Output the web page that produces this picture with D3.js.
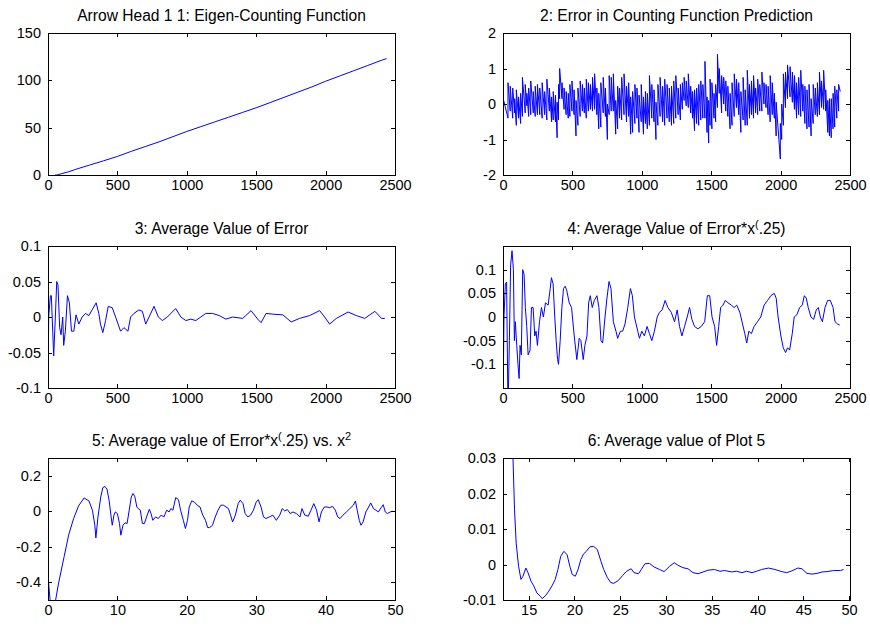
<!DOCTYPE html>
<html>
<head>
<meta charset="utf-8">
<script src="https://cdn.jsdelivr.net/npm/d3@7/dist/d3.min.js"></script>
<style>
  body { margin: 0; background: #ffffff; }
  svg text { font-family: "Liberation Sans", Arial, Helvetica, sans-serif; fill: #000; }
</style>
</head>
<body>
<svg id="fig" width="870" height="626"></svg>
<script>
// ---------- Panel 1: eigen-counting function N(x) ----------
const countX = [50, 65, 100, 150, 200, 300, 400, 500, 600, 700, 800, 900, 1000, 1100, 1200,
  1300, 1400, 1500, 1600, 1700, 1800, 1900, 2000, 2100, 2200, 2300, 2400, 2440];
const countY = [0, 0, 1.5, 3.5, 6, 10.5, 15, 19.6, 25, 30, 35, 40.5, 46, 51, 56,
  61, 66, 71, 76.5, 82, 87.5, 93, 99, 104.5, 110, 115.5, 121, 123];

// ---------- Panel 2: error in counting function (sawtooth) ----------
// each entry: position of a jump, value just before it, value just after it
const errX = [5, 36, 52, 70, 84, 96, 112, 127, 140, 160, 172, 185, 200, 218, 232, 248, 265, 282, 300,
  316, 334, 350, 362, 378, 390, 400, 408, 425, 440, 455, 470, 482, 497, 512, 526, 540, 556, 572,
  586, 600, 615, 630, 645, 660, 676, 690, 705, 722, 738, 752, 765, 780, 795, 812, 826, 840, 855,
  872, 890, 905, 920, 934, 950, 965, 980, 996, 1012, 1026, 1040, 1055, 1072, 1088, 1102, 1116,
  1132, 1150, 1165, 1182, 1198, 1214, 1230, 1245, 1262, 1278, 1292, 1305, 1320, 1335, 1352, 1366,
  1380, 1395, 1410, 1425, 1440, 1455, 1470, 1482, 1492, 1505, 1520, 1532, 1545, 1558, 1575, 1590,
  1605, 1620, 1636, 1650, 1666, 1682, 1698, 1714, 1730, 1745, 1760, 1776, 1790, 1805, 1820, 1835,
  1850, 1865, 1880, 1895, 1910, 1925, 1940, 1955, 1968, 1998, 2008, 2020, 2035, 2050, 2068, 2085,
  2100, 2115, 2130, 2145, 2160, 2175, 2190, 2205, 2220, 2235, 2250, 2265, 2280, 2295, 2310, 2325,
  2340, 2352, 2365, 2378, 2390, 2405, 2418, 2430];
const errFrom = [0.10, -0.40, -0.20, -0.40, -0.25, -0.60, -0.40, -0.55, -0.35, -0.25, -0.05, -0.35, -0.30, -0.25, -0.35, -0.30, -0.30, -0.40, -0.30,
  -0.45, -0.20, -0.50, -0.45, -0.50, -0.95, -0.45, 0.15, 0.15, -0.15, -0.30, -0.40, -0.35, -0.20, -0.30, -0.90, -0.60, -0.35, -0.20,
  -0.25, -0.40, -0.20, -0.15, -0.20, -0.15, -0.30, -0.70, -0.65, -0.25, -0.35, -1.00, -0.30, -0.20, -0.20, -0.85, -0.70, -0.40, -0.45,
  -0.30, -0.50, -0.35, -0.85, -0.80, -0.55, -0.40, -0.80, -0.50, -0.85, -0.55, -0.70, -0.60, -0.40, -0.50, -1.00, -0.60,
  -0.35, -0.50, -0.60, -0.40, -0.50, -0.60, -0.55, -0.40, -0.30, -0.45, -0.15, 0.10, -0.05, -0.10, -0.25, -0.40,
  -0.75, -0.55, -0.60, -0.45, -0.40, -0.40, -0.80, -1.10, -0.60, -0.70, -0.40, -0.50, -0.10, 0.30, -0.25, 0.00,
  -0.20, -0.35, -0.70, -0.60, -0.35, -0.10, -0.30, -0.80, -0.45, -0.60, -0.60, -0.40, -0.30, -0.40, -0.25, -0.30,
  -0.20, -0.20, 0.00, -0.10, -0.30, -0.50, -0.30, -0.40, -0.90, -1.55, -1.00, -0.60, -0.10, 0.15, 0.20, 0.05,
  -0.15, -0.40, -0.30, -0.35, -0.20, -0.55, -0.70, -0.65, -0.90, -0.55, -0.30, -0.35, -0.30, -0.10, -0.15, -0.20,
  -0.80, -0.90, -0.95, -0.70, -0.65, -0.40, -0.20, 0.35];
const errTo = [0.10, 0.60, 0.50, 0.45, 0.15, 0.40, 0.20, 0.30, 0.75, 0.55, 0.30, 0.45, 0.65, 0.35, 0.50, 0.55, 0.45, 0.60, 0.35,
  0.70, 0.45, 0.20, 0.35, 0.25, 0.05, 0.55, 1.00, 0.60, 0.45, 0.35, 0.30, 0.55, 0.65, 0.40, 0.10, 0.45, 0.65, 0.55,
  0.45, 0.70, 0.60, 0.55, 0.75, 0.85, 0.45, 0.30, 0.60, 0.75, 0.45, 0.00, 0.80, 0.75, 0.85, 0.10, 0.50, 0.45, 0.75,
  0.85, 0.50, 0.60, 0.20, 0.35, 0.55, 0.45, 0.25, 0.55, 0.20, 0.35, 0.30, 0.80, 0.55, 0.40, 0.05, 0.55,
  0.75, 0.50, 0.70, 0.55, 0.45, 0.50, 0.65, 0.80, 0.45, 0.55, 0.60, 0.75, 0.65, 0.85, 0.50, 0.35,
  0.40, 0.45, 0.55, 0.65, 0.55, 1.20, 0.20, 0.10, 0.70, 0.60, 0.30, 0.55, 1.40, 1.00, 0.80, 0.75,
  0.65, 0.50, 0.30, 0.60, 0.85, 0.70, 0.60, 0.35, 0.75, 0.40, 0.95, 0.55, 0.65, 0.80, 0.45, 0.70,
  0.55, 0.90, 0.60, 0.55, 0.50, 0.80, 0.60, 0.30, 0.05, -0.55, 0.00, 0.85, 0.90, 1.10, 1.05, 0.90,
  0.80, 0.60, 0.75, 0.95, 0.55, 0.50, 0.40, 0.55, 0.15, 0.55, 0.45, 0.60, 0.90, 0.65, 0.95, 0.40,
  0.10, 0.15, 0.15, 0.30, 0.50, 0.40, 0.55, 0.35];

// ---------- Panel 3: running average of the error ----------
const avgX = [0, 5, 17, 24, 34, 41, 53, 63, 72, 84, 94, 106, 113, 125, 140, 154, 169, 186, 202, 222,
  246, 270, 294, 318, 347, 366, 378, 395, 415, 434, 463, 487, 523, 547, 576, 595, 619, 655, 680, 704,
  728, 764, 795, 824, 860, 920, 957, 993, 1029, 1065, 1101, 1137, 1186, 1234, 1282, 1330, 1403, 1463,
  1511, 1535, 1571, 1620, 1692, 1752, 1812, 1885, 1957, 1993, 2029, 2077, 2162, 2222, 2282, 2355, 2403, 2427];
const avgY = [-0.1, 0.0, 0.03, 0.03, -0.02, -0.055, 0.0, 0.05, 0.045, -0.015, -0.025, 0.0, -0.04, -0.02, 0.03, 0.02, -0.02, -0.02, 0.003, -0.01,
  0.0, 0.005, 0.002, 0.01, 0.02, 0.005, -0.01, -0.022, -0.005, 0.015, 0.013, 0.0, -0.02, -0.015, -0.02, 0.0, 0.005, 0.01, 0.008, -0.01,
  0.0, 0.015, 0.0, -0.005, 0.0, 0.012, 0.0, -0.005, -0.003, -0.005, 0.0, 0.005, 0.005, 0.002, -0.003, 0.0, -0.002, 0.009,
  -0.003, -0.008, 0.005, 0.004, 0.003, -0.007, -0.002, 0.002, 0.009, 0.0, -0.01, -0.002, 0.007, 0.002, -0.002, 0.008, -0.002, -0.002];

// ---------- Panel 4: running average of error * x^(1/4) ----------
const wavgX = [0, 7, 17, 26, 36, 46, 55, 65, 75, 82, 89, 99, 108, 116, 123, 132, 142, 152, 161, 171, 181, 195,
  205, 217, 229, 238, 248, 263, 277, 291, 306, 325, 340, 349, 361, 373, 383, 393, 400, 412, 424, 436, 448,
  460, 477, 494, 513, 532, 549, 561, 578, 590, 605, 617, 629, 643, 658, 677, 691, 706, 718, 735, 749, 764,
  778, 795, 814, 826, 846, 862, 879, 899, 918, 932, 947, 971, 983, 1000, 1019, 1038, 1055, 1072, 1091,
  1111, 1127, 1147, 1168, 1188, 1212, 1236, 1255, 1272, 1289, 1308, 1327, 1344, 1361, 1380, 1404, 1428,
  1453, 1472, 1489, 1506, 1525, 1539, 1554, 1568, 1585, 1602, 1621, 1645, 1665, 1684, 1706, 1722, 1742,
  1756, 1771, 1790, 1809, 1833, 1857, 1881, 1906, 1930, 1954, 1968, 1982, 2002, 2019, 2036, 2050, 2065,
  2084, 2098, 2118, 2137, 2156, 2171, 2185, 2199, 2219, 2238, 2257, 2272, 2286, 2301, 2320, 2339, 2358,
  2378, 2392, 2411, 2426];
const wavgY = [-0.2, 0.0, 0.07, 0.074, -0.2, -0.05, 0.11, 0.14, 0.1, -0.05, -0.01, -0.06, -0.1, -0.13, -0.06, -0.08, 0.1, 0.09, 0.02, -0.02, -0.08, -0.07,
  0.02, 0.02, -0.04, -0.03, -0.06, -0.01, 0.02, 0.0, 0.03, 0.025, 0.06, 0.083, 0.07, 0.0, -0.05, -0.09, -0.1, -0.05, 0.02, 0.06, 0.065,
  0.055, 0.03, 0.02, -0.04, -0.09, -0.045, -0.05, -0.09, -0.06, -0.04, 0.03, 0.045, 0.02, 0.035, 0.045, 0.02, -0.05, -0.055, 0.0, 0.04, 0.075,
  0.06, -0.01, -0.03, -0.045, -0.03, -0.03, -0.015, 0.02, 0.06, 0.045, 0.0, -0.03, -0.045, -0.03, -0.04, -0.02, -0.035, -0.05, -0.03,
  0.0, 0.01, 0.015, 0.035, 0.02, 0.01, -0.01, 0.015, -0.02, -0.04, -0.02, 0.0, 0.02, -0.005, -0.02, -0.025, -0.02,
  -0.01, 0.045, 0.045, 0.0, -0.02, -0.06, -0.02, 0.02, 0.025, 0.035, 0.03, 0.025, 0.02, 0.025, 0.01, -0.01, -0.035,
  -0.055, -0.03, -0.035, -0.02, -0.01, 0.0, 0.025, 0.035, 0.045, 0.05, 0.04, 0.0, -0.04, -0.065, -0.075, -0.065, -0.07,
  -0.035, 0.0, 0.005, 0.02, 0.025, 0.045, 0.04, 0.02, 0.0, -0.005, 0.015, 0.02, 0.0, -0.01, 0.02, 0.035, 0.035,
  0.02, -0.01, -0.015, -0.017];

// ---------- Panel 5: the same average against sqrt(x) ----------
const rootX = [0, 0.1, 0.35, 0.6, 0.9, 1.1, 1.5, 2.3, 3.0, 3.7, 4.4, 5.2, 5.9, 6.4, 6.75, 6.9, 7.2, 7.6, 7.9, 8.2, 8.5, 8.8, 9.1,
  9.26, 9.5, 9.7, 10.0, 10.3, 10.5, 10.8, 11.1, 11.4, 11.7, 12.0, 12.25, 12.5, 12.8, 13.0, 13.3, 13.6, 13.9, 14.2,
  14.6, 14.85, 15.1, 15.5, 15.9, 16.3, 16.7, 17.1, 17.45, 17.7, 18.0, 18.4, 18.8, 19.1, 19.5, 19.8, 20.1, 20.35,
  20.7, 21.1, 21.5, 21.9, 22.3, 22.7, 23.0, 23.3, 23.7, 24.1, 24.5, 24.9, 25.3, 25.65, 26.0, 26.3, 26.6, 27.0,
  27.4, 27.7, 28.1, 28.4, 28.8, 29.2, 29.6, 30.0, 30.3, 30.7, 31.05, 31.4, 31.9, 32.4, 32.9, 33.4, 33.75, 34.1,
  34.5, 34.9, 35.3, 35.8, 36.3, 36.6, 37.0, 37.5, 37.9, 38.3, 38.7, 39.05, 39.4, 39.8, 40.2, 40.6, 41.0, 41.4,
  41.75, 42.1, 42.5, 43.0, 43.5, 44.0, 44.3, 44.55, 44.85, 45.1, 45.4, 45.8, 46.2, 46.5, 46.9, 47.25, 47.6, 48.0,
  48.3, 48.6, 48.9, 49.3, 49.7];
const rootY = [-0.31, -0.41, -0.52, -0.56, -0.54, -0.5, -0.41, -0.26, -0.13, -0.04, 0.03, 0.075, 0.058, 0.006, -0.08, -0.15, -0.032, 0.08, 0.133, 0.14, 0.125, 0.062, -0.032,
  -0.079, -0.022, -0.004, -0.013, -0.069, -0.135, -0.079, -0.065, -0.069, 0.006, 0.08, 0.1, 0.084, 0.024, 0.015, 0.006, -0.069, -0.069, -0.032,
  0.011, -0.013, -0.051, -0.032, -0.041, -0.022, -0.032, 0.006, -0.004, 0.015, 0.006, 0.077, 0.065, 0.006, -0.051, -0.097, -0.051, 0.024,
  0.058, 0.052, 0.034, 0.024, -0.022, -0.051, -0.092, -0.092, -0.079, -0.032, 0.006, 0.034, 0.034, 0.024, 0.015, -0.022, -0.06, -0.022,
  0.043, 0.062, 0.043, -0.013, -0.032, -0.022, 0.006, 0.052, 0.065, 0.024, -0.032, -0.041, -0.032, -0.022, -0.051, -0.022, 0.015, 0.002,
  0.009, -0.013, -0.004, -0.013, -0.032, 0.015, -0.022, -0.028, 0.006, 0.043, 0.006, -0.06, -0.004, 0.024, 0.024, 0.02, 0.028, 0.006,
  -0.032, -0.041, -0.022, -0.004, 0.015, 0.034, 0.058, 0.006, -0.051, -0.079, -0.06, -0.004, 0.024, 0.047, 0.015, 0.006, -0.004, 0.02,
  0.037, -0.004, -0.013, -0.004, 0.0];

// ---------- Panel 6: running average of panel 5 ----------
const meanX = [13.28, 13.46, 13.64, 13.9, 14.16, 14.38, 14.7, 14.93, 15.26, 15.55, 15.9, 16.3, 16.47, 16.8, 17.2, 17.56,
  17.9, 18.2, 18.5, 18.85, 19.2, 19.5, 19.76, 20.1, 20.4, 20.7, 21.0, 21.3, 21.7, 22.1, 22.5, 22.9, 23.2, 23.6,
  23.97, 24.3, 24.8, 25.26, 25.7, 26.2, 26.5, 27.0, 27.3, 27.7, 28.2, 28.7, 29.3, 29.8, 30.4, 30.9, 31.3, 31.85,
  32.4, 32.95, 33.5, 34.05, 34.6, 35.3, 35.9, 36.4, 37.2, 37.7, 38.3, 38.8, 39.4, 39.9, 40.45, 41.2, 41.9, 42.65,
  43.2, 43.75, 44.4, 44.85, 45.4, 45.95, 46.5, 47.05, 47.6, 48.3, 49.05, 49.4];
const meanY = [0.031, 0.0154, 0.006, -0.0005, -0.0042, -0.0033, -0.001, -0.0023, -0.0047, -0.006, -0.008, -0.009, -0.0096, -0.0089, -0.0075, -0.006,
  -0.0042, -0.0014, 0.0023, 0.0037, 0.0028, -0.0005, -0.0028, -0.0033, -0.0014, 0.0014, 0.003, 0.0037, 0.005, 0.0051, 0.0042, 0.0009, -0.0014, -0.0037,
  -0.0051, -0.0053, -0.0045, -0.0031, -0.0019, -0.0012, -0.0023, -0.0026, -0.0014, 0.0002, 0.0003, -0.0007, -0.0014, -0.002, -0.0005, 0.0005, -0.0002, -0.0009,
  -0.0012, -0.0023, -0.0026, -0.0021, -0.0016, -0.0014, -0.0019, -0.0017, -0.0021, -0.0019, -0.0023, -0.0019, -0.0023, -0.0019, -0.0014, -0.001, -0.0014, -0.002,
  -0.0023, -0.0018, -0.001, -0.0012, -0.0025, -0.0027, -0.0025, -0.0021, -0.002, -0.0017, -0.0017, -0.0014];

// ---------- axis ticks ----------
const ticksX2500 = [0, 500, 1000, 1500, 2000, 2500];
const ticksX50 = [0, 10, 20, 30, 40, 50];
const ticksX6 = [15, 20, 25, 30, 35, 40, 45, 50];
const ticksY1 = [0, 50, 100, 150];
const ticksY2 = [-2, -1, 0, 1, 2];
const ticksY3 = [-0.1, -0.05, 0, 0.05, 0.1];
const ticksY4 = [-0.1, -0.05, 0, 0.05, 0.1];
const ticksY5 = [-0.4, -0.2, 0, 0.2];
const ticksY6 = [-0.01, 0, 0.01, 0.02, 0.03];

// ---------- build the polyline for the sawtooth ----------
const errPts = [];
errX.forEach((x, i) => { errPts.push([x, errFrom[i]]); if (errTo[i] !== errFrom[i]) errPts.push([x, errTo[i]]); });
const zip = (xs, ys) => xs.map((x, i) => [x, ys[i]]);

const colL = 48, colR = 503, axW = 347, axH = 142;
const rowT = [33, 246, 458];
const TICK_FONT = 14.5, TITLE_FONT = 15.6;

const panels = [
  { left: colL, top: rowT[0], xd: [0, 2500], yd: [0, 150], xt: ticksX2500, yt: ticksY1,
    title: [["Arrow Head 1 1: Eigen-Counting Function"]], pts: zip(countX, countY) },
  { left: colR, top: rowT[0], xd: [0, 2500], yd: [-2, 2], xt: ticksX2500, yt: ticksY2,
    title: [["2: Error in Counting Function Prediction"]], pts: errPts },
  { left: colL, top: rowT[1], xd: [0, 2500], yd: [-0.1, 0.1], xt: ticksX2500, yt: ticksY3,
    title: [["3: Average Value of Error"]], pts: zip(avgX, avgY) },
  { left: colR, top: rowT[1], xd: [0, 2500], yd: [-0.15, 0.15], xt: ticksX2500, yt: ticksY4,
    title: [["4: Average Value of Error*x"], ["(", "sup"], [".25)"]], pts: zip(wavgX, wavgY) },
  { left: colL, top: rowT[2], xd: [0, 50], yd: [-0.5, 0.3], xt: ticksX50, yt: ticksY5,
    title: [["5: Average value of Error*x"], ["(", "sup"], [".25) vs. x"], ["2", "sup"]], pts: zip(rootX, rootY) },
  { left: colR, top: rowT[2], xd: [12.2, 50.1], yd: [-0.01, 0.03], xt: ticksX6, yt: ticksY6,
    title: [["6: Average value of Plot 5"]], pts: zip(meanX, meanY) }
];

const svg = d3.select("#fig");
svg.append("rect").attr("width", 870).attr("height", 626).attr("fill", "#ffffff");

const TICK = 4;
panels.forEach((p, k) => {
  const x = d3.scaleLinear().domain(p.xd).range([0, axW]);
  const y = d3.scaleLinear().domain(p.yd).range([axH, 0]);
  const g = svg.append("g").attr("transform", `translate(${p.left},${p.top})`);

  g.append("clipPath").attr("id", "clip" + k)
    .append("rect").attr("width", axW).attr("height", axH);

  // data line
  g.append("path")
    .datum(p.pts)
    .attr("clip-path", `url(#clip${k})`)
    .attr("fill", "none")
    .attr("stroke", "#0000ff")
    .attr("stroke-width", 1)
    .attr("stroke-linejoin", "round")
    .attr("d", d3.line().x(d => x(d[0])).y(d => y(d[1])));

  // axes: ticks point inward on all four sides, labels on bottom and left
  const fmt = v => String(v);
  const bottom = d3.axisBottom(x).tickValues(p.xt).tickSize(-TICK).tickPadding(5).tickFormat(fmt);
  const top = d3.axisTop(x).tickValues(p.xt).tickSize(-TICK).tickFormat("");
  const left = d3.axisLeft(y).tickValues(p.yt).tickSize(-TICK).tickPadding(7).tickFormat(fmt);
  const right = d3.axisRight(y).tickValues(p.yt).tickSize(-TICK).tickFormat("");

  [[bottom, `translate(0,${axH})`], [top, "translate(0,0)"], [left, "translate(0,0)"], [right, `translate(${axW},0)`]]
    .forEach(([ax, tr]) => {
      const a = g.append("g").attr("transform", tr).call(ax);
      a.select(".domain").remove();
      a.selectAll(".tick line").attr("stroke", "#000").attr("shape-rendering", "crispEdges");
      a.selectAll(".tick text").attr("font-size", TICK_FONT).attr("font-family", null).attr("fill", "#000");
    });

  g.append("rect").attr("x", 0.5).attr("y", 0.5).attr("width", axW).attr("height", axH)
    .attr("fill", "none").attr("stroke", "#000").attr("stroke-width", 1).attr("shape-rendering", "crispEdges");

  // title with optional superscripts
  const t = g.append("text").attr("x", axW / 2).attr("y", -12)
    .attr("text-anchor", "middle").attr("font-size", TITLE_FONT);
  let sup = false;
  p.title.forEach(([s, kind]) => {
    const ts = t.append("tspan").text(s);
    if (kind === "sup") { ts.attr("dy", -6).attr("font-size", TITLE_FONT * 0.7); sup = true; }
    else if (sup) { ts.attr("dy", 6); sup = false; }
  });
});
</script>
</body>
</html>
